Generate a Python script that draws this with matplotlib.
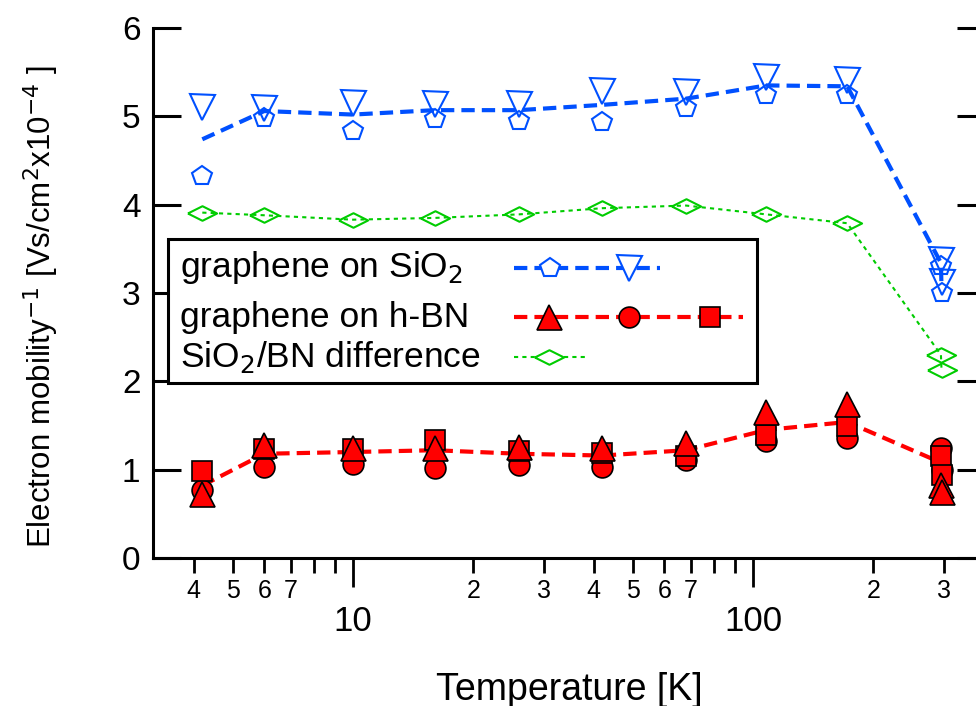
import numpy as np
import matplotlib.pyplot as plt
from matplotlib.ticker import FuncFormatter, FixedLocator
from matplotlib.lines import Line2D
from matplotlib.patches import Rectangle

plt.rcParams['font.family'] = ['Liberation Sans', 'DejaVu Sans']

# temperatures [K]; the last two points are repeated runs at room temperature
temp = [4.2, 6, 10, 16, 26, 42, 68, 108, 172, 295, 296]

sio2_pent = [4.33, 4.98, 4.83, 4.97, 4.95, 4.94, 5.10, 5.24, 5.24, 3.31, 3.00]
sio2_tri = [5.11, 5.10, 5.15, 5.14, 5.14, 5.29, 5.27, 5.44, 5.41, 3.37, 3.12]
sio2_avg = [4.74, 5.06, 5.02, 5.07, 5.07, 5.13, 5.20, 5.35, 5.34, 3.34, 3.06]

bn_tri = [0.73, 1.28, 1.25, 1.25, 1.26, 1.24, 1.30, 1.65, 1.74, 0.83, 0.75]
bn_circ = [0.77, 1.03, 1.06, 1.02, 1.05, 1.03, 1.11, 1.33, 1.36, 1.24, 1.00]
bn_sq = [0.99, 1.23, 1.23, 1.34, 1.21, 1.19, 1.15, 1.39, 1.50, 1.16, 0.94]
bn_avg = [0.82, 1.18, 1.20, 1.22, 1.18, 1.16, 1.22, 1.45, 1.54, 1.08, 0.93]

diff = [3.91, 3.88, 3.83, 3.85, 3.89, 3.96, 3.99, 3.89, 3.79, 2.30, 2.13]

legend_labels = ['graphene on SiO$_2$', 'graphene on h-BN', 'SiO$_2$/BN difference']
minor_labels = {4: '4', 5: '5', 6: '6', 7: '7', 20: '2', 30: '3', 40: '4', 50: '5',
                60: '6', 70: '7', 200: '2', 300: '3'}

blue = '#0050ff'
red = '#ff0000'
green = '#00cc00'
flat_diamond = [(-1, 0), (0, 0.5), (1, 0), (0, -0.5), (-1, 0)]
dash = (0, (3.2, 1.7))
dots = (0, (2, 2))

W, H = 976, 706
fig = plt.figure(figsize=(W / 100, H / 100), dpi=100)
ax = fig.add_axes([153 / W, 1 - 558 / H, 832 / W, 530 / H])

blue_open = dict(ls='none', mfc='none', mec=blue, mew=1.5, zorder=3)
red_fill = dict(ls='none', mfc=red, mec='black', mew=1.2)

ax.plot(temp, sio2_avg, color=blue, lw=3, ls=dash, zorder=2)
ax.plot(temp, sio2_pent, marker='p', ms=15, **blue_open)
ax.plot(temp, sio2_tri, marker='v', ms=18, **blue_open)

ax.plot(temp, diff, color=green, lw=1.5, ls=dots, zorder=2)
ax.plot(temp, diff, ls='none', marker=flat_diamond, ms=21, mfc='none', mec=green, mew=1.5, zorder=3)

ax.plot(temp, bn_avg, color=red, lw=3, ls=dash, zorder=2)
ax.plot(temp, bn_circ, marker='o', ms=15, zorder=3, **red_fill)
ax.plot(temp, bn_sq, marker='s', ms=14, zorder=4, **red_fill)
ax.plot(temp, bn_tri, marker='^', ms=18, zorder=5, **red_fill)

ax.set_xscale('log')
ax.set_xlim(10 ** 0.5, 10 ** 2.58)
ax.set_ylim(0, 6)

ax.spines['top'].set_visible(False)
for s in ['left', 'bottom', 'right']:
    ax.spines[s].set_linewidth(2.2)

ax.set_yticks([0, 1, 2, 3, 4, 5, 6])
ax.tick_params(axis='y', which='major', direction='in', length=20, width=2.2,
               labelsize=24, right=True, pad=9)

ax.xaxis.set_major_locator(FixedLocator([10, 100]))
ax.xaxis.set_major_formatter(FuncFormatter(lambda v, p: f"{v:g}"))
ax.xaxis.set_minor_locator(FixedLocator([m * 10 ** d for d in range(3) for m in range(2, 10)]))
ax.xaxis.set_minor_formatter(FuncFormatter(lambda v, p: minor_labels.get(int(round(v)), '')))
ax.tick_params(axis='x', which='major', direction='out', length=21, width=2,
               labelsize=25, pad=13)
ax.tick_params(axis='x', which='minor', direction='out', length=11, width=2,
               labelsize=18, pad=4)

ax.set_xlabel('Temperature [K]', fontsize=27, labelpad=24)
ax.set_ylabel('Electron mobility$^{-1}$ [Vs/cm$^{2}$x10$^{-4}$ ]', fontsize=22.5)
ax.yaxis.set_label_coords(-0.11, 0.475)

# legend box drawn by hand: text left, sample lines with several markers on the right
def fx(px):
    return px / W

def fy(py):
    return 1 - py / H

fig.add_artist(Rectangle((fx(168), fy(383)), fx(757) - fx(168), fy(239) - fy(383),
                         transform=fig.transFigure, facecolor='white',
                         edgecolor='black', lw=2.2, zorder=5))
rows = [
    (268, blue, dash, 3, 660, [('p', 550, 15, False), ('v', 629, 18, False)]),
    (317, red, dash, 3, 743, [('^', 549, 18, True), ('o', 629, 15, True), ('s', 710, 14, True)]),
    (357, green, dots, 1.5, 585, [(flat_diamond, 549, 21, False)]),
]
for (py, color, ls, lw, xend, marks), label in zip(rows, legend_labels):
    fig.text(fx(180), fy(py), label, fontsize=25.5, va='center', ha='left', zorder=6)
    fig.add_artist(Line2D([fx(514), fx(xend)], [fy(py), fy(py)], color=color, ls=ls, lw=lw,
                          transform=fig.transFigure, zorder=6))
    for m, px, ms, filled in marks:
        fig.add_artist(Line2D([fx(px)], [fy(py)], ls='none', marker=m, ms=ms,
                              mfc=color if filled else 'white',
                              mec='black' if filled else color,
                              mew=1.2 if filled else 1.5,
                              transform=fig.transFigure, zorder=7))

fig.savefig('out.png', dpi=100)
